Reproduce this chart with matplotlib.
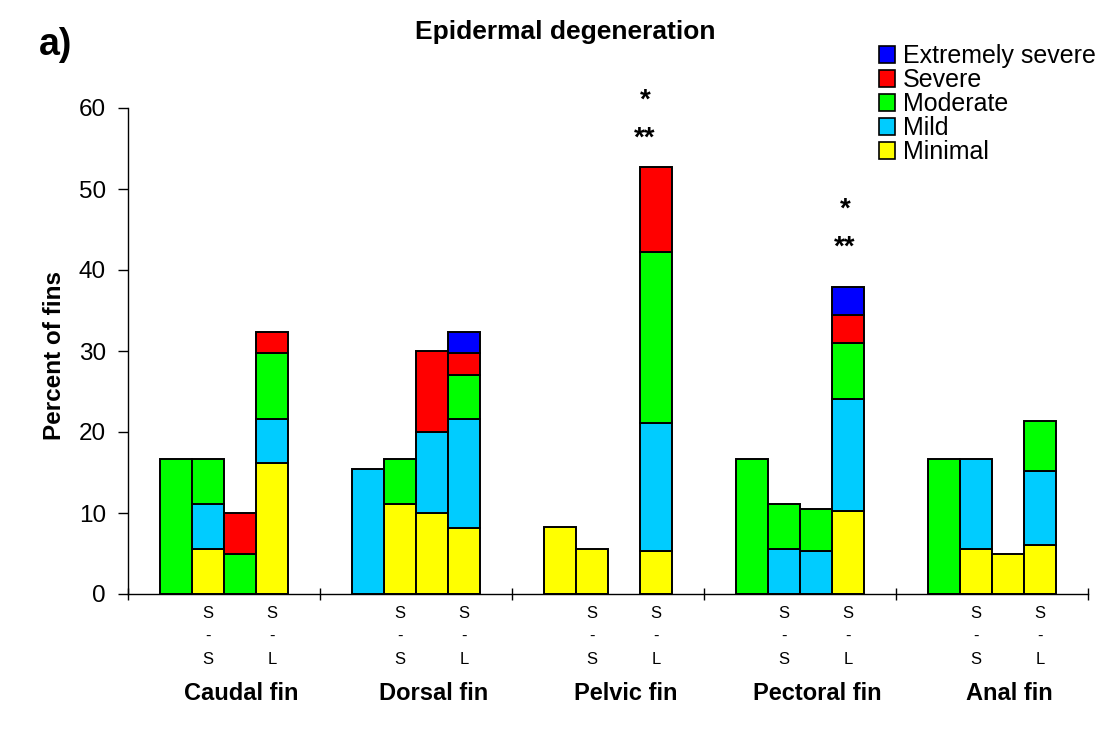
import matplotlib
matplotlib.use("Agg")
import matplotlib.pyplot as plt
from matplotlib.patches import Patch
import numpy as np

plt.rcParams['font.family'] = ['Liberation Sans', 'DejaVu Sans']

# Fin groups and the four samples shown for each one
fins = ["Caudal fin", "Dorsal fin", "Pelvic fin", "Pectoral fin", "Anal fin"]
bars_per_fin = 4
pair_labels = {1: "S\n-\nS", 3: "S\n-\nL"}

# Percent of fins per severity grade (segment heights, 4 bars per fin)
minimal = [0, 5.6, 0, 16.2,
           0, 11.1, 10.0, 8.1,
           8.3, 5.6, 0, 5.3,
           0, 0, 0, 10.3,
           0, 5.6, 5.0, 6.1]
mild = [0, 5.5, 0, 5.4,
        15.4, 0, 10.0, 13.5,
        0, 0, 0, 15.8,
        0, 5.6, 5.3, 13.8,
        0, 11.1, 0, 9.1]
moderate = [16.7, 5.6, 5.0, 8.1,
            0, 5.6, 0, 5.4,
            0, 0, 0, 21.1,
            16.7, 5.5, 5.2, 6.9,
            16.7, 0, 0, 6.1]
severe = [0, 0, 5.0, 2.7,
          0, 0, 10.0, 2.7,
          0, 0, 0, 10.5,
          0, 0, 0, 3.4,
          0, 0, 0, 0]
extremely_severe = [0, 0, 0, 0,
                    0, 0, 0, 2.7,
                    0, 0, 0, 0,
                    0, 0, 0, 3.5,
                    0, 0, 0, 0]

grades = ["Minimal", "Mild", "Moderate", "Severe", "Extremely severe"]
series = [minimal, mild, moderate, severe, extremely_severe]
colors = ["#FFFF00", "#00CCFF", "#00FF00", "#FF0000", "#0000FF"]

# Significance marks: (fin index, bar index, text, y, horizontal nudge)
marks = [(2, 3, "*", 60.0, -0.34), (2, 3, "**", 55.4, -0.34),
         (3, 3, "*", 46.6, -0.1), (3, 3, "**", 41.9, -0.1)]

group_w = bars_per_fin + 2
x = np.array([g * group_w + 1 + b + 0.5
              for g in range(len(fins)) for b in range(bars_per_fin)])

fig = plt.figure(figsize=(10.98, 7.33), dpi=100)
ax = fig.add_axes([128 / 1098, 1 - 594 / 733, 960 / 1098, 486 / 733])

bottom = np.zeros(len(x))
for vals, col in zip(series, colors):
    vals = np.asarray(vals, dtype=float)
    keep = vals > 0
    ax.bar(x[keep], vals[keep], width=1.0, bottom=bottom[keep], color=col,
           edgecolor="black", linewidth=1.4, zorder=2)
    bottom += vals

ax.set_xlim(0, group_w * len(fins))
ax.set_ylim(0, 60)
ax.set_yticks(np.arange(0, 61, 10))
ax.set_xticks(np.arange(0, group_w * len(fins) + 1, group_w))
ax.set_xticklabels([])
ax.tick_params(axis="y", direction="out", length=7, width=1, labelsize=17.5, pad=9)
ax.tick_params(axis="x", direction="inout", length=9, width=1)
for side in ("top", "right"):
    ax.spines[side].set_visible(False)
for side in ("left", "bottom"):
    ax.spines[side].set_linewidth(1.0)

for g, b, txt, yv, dx in marks:
    ax.text(x[g * bars_per_fin + b] + dx, yv, txt, ha="center", va="baseline",
            fontsize=20, fontweight="bold")

trans = matplotlib.transforms.blended_transform_factory(ax.transData, fig.transFigure)
for g, name in enumerate(fins):
    for b, lab in pair_labels.items():
        xi = x[g * bars_per_fin + b]
        for k, ch in enumerate(lab.split("\n")):
            ax.text(xi, 1 - (613 + 23.5 * k) / 733, ch, transform=trans,
                    ha="center", va="center", fontsize=12)
    ax.text(g * group_w + group_w / 2 + 0.55, 1 - 694 / 733, name, transform=trans,
            ha="center", va="center", fontsize=17, fontweight="bold")

fig.text(565 / 1098, 1 - 39 / 733, "Epidermal degeneration", ha="center",
         va="baseline", fontsize=19, fontweight="bold")
fig.text(39 / 1098, 1 - 45 / 733, "a)", ha="left", va="center",
         fontsize=27, fontweight="bold")
fig.text(55 / 1098, 1 - 355 / 733, "Percent of fins", rotation=90,
         ha="center", va="center", fontsize=17.5, fontweight="bold")

handles = [Patch(facecolor=c, edgecolor="black", linewidth=1.2)
           for c in colors[::-1]]
fig.legend(handles, grades[::-1], loc="upper left",
           bbox_to_anchor=(879 / 1098, 1 - 44 / 733), frameon=False,
           fontsize=18, labelspacing=0.0, handlelength=0.65, handleheight=0.65,
           handletextpad=0.3, borderpad=0, borderaxespad=0)

fig.savefig("out.png", dpi=100)
